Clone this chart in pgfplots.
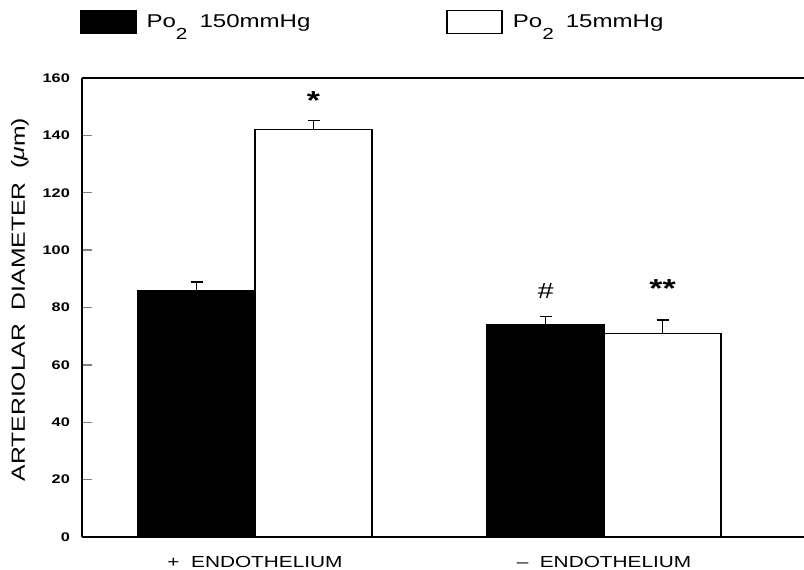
\documentclass[border=0pt]{standalone}
\usepackage{fontspec}
\setmainfont[FakeStretch=1.3]{Liberation Sans}
\usepackage{pgfplots}
\usepackage{pgfplotstable}
\pgfplotsset{compat=1.18}

% arteriolar diameter (um), mean and SEM
\pgfplotstableread{
x y err
1 86 2.8
2 74 2.9
}\highpo
\pgfplotstableread{
x y err
1 142 3.2
2 71 4.6
}\lowpo

\begin{document}
\begin{tikzpicture}
\useasboundingbox (-82bp,-33bp) rectangle (722bp,537bp);
\begin{axis}[
    at={(0,0)}, anchor=south west,
    scale only axis, width=722bp, height=459bp,
    ybar=0pt, bar width=117bp,
    xmin=0.5043, xmax=2.573, ymin=0, ymax=160,
    axis x line*=box, axis y line*=left,
    axis line style={-, line width=1.6bp},
    ytick={0,20,...,160},
    xtick={1,2},
    xticklabels={{+\ \ ENDOTHELIUM},{–\ \ ENDOTHELIUM}},
    xtick style={draw=none},
    ytick style={line width=1.4bp},
    tick align=inside, major tick length=10bp,
    /pgf/number format/assume math mode=true,
    yticklabel style={font=\fontsize{12.5bp}{14bp}\selectfont\bfseries,
        inner sep=0pt, anchor=east, xshift=-12bp},
    xticklabel style={font=\fontsize{16bp}{18bp}\selectfont,
        inner sep=0pt, anchor=north, yshift=-19bp},
    ylabel={ARTERIOLAR\ \ DIAMETER\ \ (\emph{μ}m)},
    ylabel style={font=\fontsize{19bp}{21bp}\selectfont,
        at={(axis description cs:-0.0859,0.517)}, anchor=center, inner sep=0pt},
    legend columns=2,
    legend style={at={(axis description cs:-0.0028,1.122)}, anchor=west,
        draw=none, fill=none, inner sep=0pt,
        font=\fontsize{18.5bp}{20bp}\selectfont,
        nodes={inner sep=0pt},
        column sep=10bp,
        /tikz/every even column/.append style={column sep=136bp}},
    legend image code/.code={\draw[#1, line width=1.4bp] (0bp,-11.5bp) rectangle (55bp,11.5bp);},
    error bars/y dir=plus, error bars/y explicit,
    error bars/error mark options={rotate=90, mark size=6bp, line width=1.6bp, black},
    error bars/error bar style={line width=1.6bp, black},
]
\addplot[fill=black, draw=black, line width=1.4bp]
    table[x=x, y=y, y error=err] {\highpo};
\addlegendentry{Po\raisebox{-12bp}{\fontsize{16bp}{16bp}\selectfont 2}\hspace{12bp}150mmHg}
\addplot[fill=white, draw=black, line width=1.4bp]
    table[x=x, y=y, y error=err] {\lowpo};
\addlegendentry{Po\raisebox{-12bp}{\fontsize{16bp}{16bp}\selectfont 2}\hspace{12bp}15mmHg}
\node[font=\fontsize{26bp}{26bp}\selectfont\bfseries] at (axis cs:1.1676,152) {*};
\node[font=\fontsize{22bp}{22bp}\selectfont] at (axis cs:1.8324,85.7) {\emph{\#}};
\node[font=\fontsize{26bp}{26bp}\selectfont\bfseries] at (axis cs:2.1676,86.5) {**};
\end{axis}
\end{tikzpicture}
\end{document}
